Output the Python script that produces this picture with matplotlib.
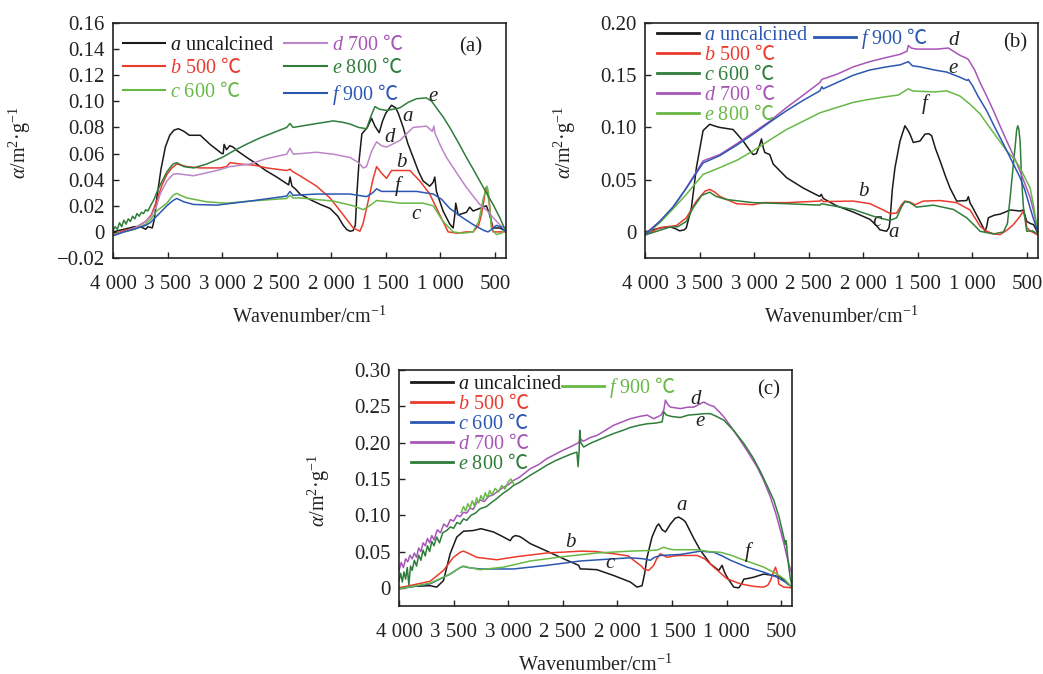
import matplotlib
matplotlib.use('Agg')
import matplotlib.pyplot as plt

plt.rcParams['font.family'] = ['Liberation Serif', 'Noto Sans CJK SC']
plt.rcParams['mathtext.fontset'] = 'custom'
plt.rcParams['mathtext.rm'] = 'Liberation Serif'
plt.rcParams['mathtext.it'] = 'Liberation Serif:italic'
plt.rcParams['mathtext.sf'] = 'Noto Sans CJK SC'

# x axis (wavenumber) ticks
xticks = [4000, 3500, 3000, 2500, 2000, 1500, 1000, 500]
xtick_labels = ['4 000', '3 500', '3 000', '2 500', '2 000', '1 500', '1 000', '500']

# ---------------- panel (a) ----------------
pa_a = [(4000, 0.0), (3900, 0.002), (3800, 0.004), (3750, 0.004), (3700, 0.002), (3680, 0.004),
        (3640, 0.003), (3620, 0.010), (3600, 0.025), (3560, 0.048), (3520, 0.065), (3480, 0.074),
        (3440, 0.078), (3400, 0.079), (3350, 0.077), (3300, 0.074), (3200, 0.074), (3110, 0.067),
        (3003, 0.060), (2990, 0.060), (2982, 0.067), (2960, 0.063), (2930, 0.066), (2900, 0.065),
        (2860, 0.062), (2774, 0.057), (2683, 0.052), (2600, 0.047), (2500, 0.042), (2409, 0.037),
        (2390, 0.036), (2378, 0.042), (2360, 0.035), (2330, 0.033), (2287, 0.029), (2200, 0.025),
        (2100, 0.021), (2012, 0.018), (1940, 0.012), (1890, 0.005), (1860, 0.002), (1830, 0.0005),
        (1800, 0.001), (1780, 0.005), (1765, 0.030), (1745, 0.055), (1720, 0.075), (1670, 0.080),
        (1631, 0.087), (1600, 0.081), (1561, 0.076), (1530, 0.085), (1500, 0.091), (1448, 0.097),
        (1410, 0.095), (1387, 0.091), (1341, 0.080), (1300, 0.068), (1250, 0.057), (1200, 0.046),
        (1159, 0.039), (1098, 0.035), (1067, 0.038), (1052, 0.042), (1037, 0.031), (976, 0.016),
        (915, 0.006), (884, 0.003), (870, 0.012), (860, 0.022), (838, 0.013), (800, 0.014),
        (762, 0.015), (732, 0.019), (701, 0.016), (640, 0.018), (579, 0.020), (549, 0.013),
        (518, 0.003), (457, 0.003), (412, 0.001), (400, 0.0)]
pa_b = [(4000, -0.002), (3900, 0.001), (3800, 0.003), (3700, 0.008), (3650, 0.013), (3598, 0.024),
        (3550, 0.036), (3506, 0.044), (3460, 0.049), (3415, 0.052), (3323, 0.050), (3201, 0.049),
        (3018, 0.049), (2960, 0.050), (2927, 0.053), (2835, 0.052), (2700, 0.051), (2591, 0.049),
        (2409, 0.047), (2378, 0.048), (2350, 0.046), (2287, 0.043), (2134, 0.035), (2012, 0.026),
        (1890, 0.013), (1799, 0.003), (1738, 0.0005), (1710, 0.006), (1677, 0.018), (1616, 0.041),
        (1585, 0.050), (1540, 0.045), (1494, 0.041), (1448, 0.047), (1372, 0.047), (1280, 0.047),
        (1189, 0.039), (1098, 0.029), (1006, 0.013), (930, 0.000), (850, -0.001), (762, 0.000),
        (701, 0.000), (650, 0.005), (625, 0.013), (600, 0.025), (585, 0.034), (570, 0.030),
        (555, 0.024), (535, 0.008), (518, 0.0), (480, 0.0), (412, 0.0), (400, 0.0)]
pa_c = [(4000, -0.002), (3800, 0.002), (3700, 0.006), (3650, 0.010), (3600, 0.016), (3506, 0.022),
        (3450, 0.028), (3415, 0.0295), (3380, 0.028), (3323, 0.026), (3140, 0.023), (2957, 0.022),
        (2744, 0.0236), (2409, 0.0256), (2378, 0.028), (2350, 0.026), (2287, 0.026), (1982, 0.0236),
        (1799, 0.020), (1707, 0.017), (1650, 0.020), (1585, 0.024), (1463, 0.023), (1372, 0.022),
        (1159, 0.022), (1067, 0.020), (976, 0.008), (884, 0.0), (800, -0.001), (701, 0.0),
        (650, 0.008), (610, 0.025), (573, 0.035), (560, 0.030), (534, 0.003), (488, -0.002),
        (440, -0.001), (412, 0.002), (400, 0.0)]
pa_d = [(4000, -0.003), (3900, 0.000), (3800, 0.003), (3700, 0.008), (3650, 0.012), (3600, 0.020),
        (3567, 0.029), (3506, 0.039), (3450, 0.044), (3415, 0.0446), (3262, 0.043), (3049, 0.047),
        (2927, 0.050), (2744, 0.052), (2600, 0.056), (2409, 0.0595), (2378, 0.064), (2348, 0.0595),
        (2134, 0.061), (1982, 0.0595), (1829, 0.057), (1750, 0.053), (1707, 0.049), (1677, 0.050),
        (1630, 0.062), (1585, 0.069), (1540, 0.066), (1494, 0.065), (1420, 0.068), (1372, 0.070),
        (1300, 0.076), (1250, 0.080), (1128, 0.081), (1075, 0.077), (1060, 0.081), (1052, 0.076),
        (1000, 0.066), (945, 0.057), (850, 0.045), (762, 0.034), (640, 0.021), (570, 0.016),
        (518, 0.011), (450, 0.005), (412, 0.003), (400, 0.002)]
pa_e = [(4000, 0.001), (3980, 0.004), (3960, 0.002), (3940, 0.007), (3920, 0.004), (3900, 0.009),
        (3880, 0.006), (3860, 0.010), (3840, 0.008), (3820, 0.012), (3800, 0.010), (3780, 0.014),
        (3760, 0.012), (3740, 0.015), (3720, 0.014), (3700, 0.017), (3680, 0.016), (3650, 0.021),
        (3628, 0.024), (3600, 0.030), (3567, 0.036), (3506, 0.046), (3450, 0.052), (3415, 0.053),
        (3350, 0.050), (3262, 0.049), (3140, 0.052), (3000, 0.057), (2896, 0.062), (2780, 0.067),
        (2652, 0.072), (2500, 0.077), (2409, 0.080), (2378, 0.083), (2350, 0.080), (2134, 0.083),
        (1982, 0.085), (1900, 0.084), (1829, 0.0826), (1750, 0.080), (1677, 0.079), (1640, 0.088),
        (1600, 0.096), (1560, 0.094), (1494, 0.093), (1430, 0.094), (1372, 0.095), (1300, 0.099),
        (1220, 0.102), (1128, 0.1026), (1080, 0.100), (1037, 0.095), (975, 0.088), (915, 0.080),
        (840, 0.069), (762, 0.057), (700, 0.048), (640, 0.039), (580, 0.030), (518, 0.021),
        (457, 0.011), (420, 0.004), (400, 0.002)]
pa_f = [(4000, -0.003), (3900, 0.000), (3811, 0.002), (3700, 0.005), (3659, 0.007), (3600, 0.012),
        (3506, 0.020), (3450, 0.024), (3415, 0.0256), (3350, 0.023), (3262, 0.021), (3049, 0.0205),
        (2900, 0.022), (2744, 0.0236), (2409, 0.0274), (2378, 0.031), (2350, 0.028), (2134, 0.029),
        (1829, 0.029), (1677, 0.027), (1620, 0.030), (1585, 0.033), (1540, 0.031), (1494, 0.031),
        (1220, 0.031), (1067, 0.029), (990, 0.025), (915, 0.018), (800, 0.011), (701, 0.0056),
        (600, 0.001), (564, 0.0), (530, 0.002), (488, 0.005), (450, 0.004), (412, 0.001), (400, 0.0)]
pa_tags = [('e', 1067, 0.104), ('a', 1305, 0.088), ('d', 1463, 0.072),
           ('b', 1357, 0.053), ('f', 1396, 0.035), ('c', 1220, 0.013)]

# ---------------- panel (b) ----------------
pb_a = [(4000, 0.0), (3927, 0.002), (3850, 0.004), (3774, 0.005), (3720, 0.003), (3682, 0.001),
        (3640, 0.002), (3621, 0.004), (3575, 0.023), (3529, 0.0615), (3468, 0.097), (3407, 0.103),
        (3350, 0.101), (3315, 0.100), (3193, 0.098), (3101, 0.087), (3040, 0.078), (3009, 0.074),
        (2979, 0.075), (2950, 0.083), (2933, 0.089), (2915, 0.080), (2902, 0.076), (2857, 0.074),
        (2826, 0.065), (2704, 0.052), (2551, 0.042), (2420, 0.035), (2398, 0.034), (2385, 0.036),
        (2367, 0.032), (2245, 0.025), (2092, 0.019), (1939, 0.012), (1880, 0.006), (1848, 0.002),
        (1787, 0.0006), (1765, 0.004), (1756, 0.010), (1735, 0.040), (1710, 0.0615), (1664, 0.087),
        (1619, 0.1016), (1590, 0.097), (1573, 0.0936), (1542, 0.0856), (1481, 0.087), (1435, 0.0936),
        (1400, 0.094), (1374, 0.092), (1340, 0.080), (1297, 0.068), (1250, 0.054), (1206, 0.042),
        (1145, 0.0295), (1053, 0.030), (1038, 0.0337), (1020, 0.027), (1007, 0.025), (931, 0.010),
        (885, 0.0006), (870, 0.005), (855, 0.0135), (800, 0.016), (747, 0.017), (700, 0.019),
        (655, 0.021), (564, 0.020), (533, 0.021), (503, 0.010), (470, 0.008), (441, 0.007),
        (401, -0.001)]
pb_b = [(4000, -0.003), (3865, 0.004), (3713, 0.006), (3621, 0.0135), (3529, 0.0295), (3450, 0.039),
        (3407, 0.0407), (3360, 0.038), (3315, 0.034), (3162, 0.027), (3009, 0.026), (2918, 0.028),
        (2704, 0.028), (2398, 0.0295), (2385, 0.031), (2367, 0.029), (2092, 0.0295), (1939, 0.027),
        (1817, 0.021), (1756, 0.0176), (1695, 0.018), (1650, 0.026), (1619, 0.0295), (1573, 0.0285),
        (1527, 0.026), (1450, 0.0295), (1297, 0.030), (1145, 0.028), (1023, 0.021), (975, 0.013),
        (931, 0.0054), (870, 0.0006), (800, -0.002), (747, -0.0026), (680, 0.002), (625, 0.007),
        (564, 0.015), (533, 0.020), (515, 0.012), (503, 0.004), (472, 0.001), (401, -0.003)]
pb_c = [(4000, -0.003), (3850, 0.002), (3774, 0.0045), (3700, 0.005), (3621, 0.010), (3560, 0.023),
        (3480, 0.035), (3407, 0.038), (3350, 0.034), (3254, 0.031), (3009, 0.028), (2704, 0.027),
        (2398, 0.0256), (2385, 0.027), (2092, 0.0215), (1909, 0.015), (1800, 0.012), (1756, 0.011),
        (1695, 0.0135), (1650, 0.024), (1619, 0.029), (1573, 0.028), (1512, 0.0237), (1359, 0.0256),
        (1175, 0.0215), (1053, 0.0135), (980, 0.006), (931, 0.0006), (808, -0.002), (716, 0.0),
        (680, 0.008), (655, 0.033), (630, 0.060), (610, 0.081), (595, 0.098), (585, 0.1016),
        (575, 0.098), (564, 0.087), (550, 0.050), (533, 0.023), (503, 0.0006), (450, 0.001),
        (401, -0.002)]
pb_d = [(4000, -0.002), (3865, 0.010), (3743, 0.023), (3621, 0.042), (3468, 0.068), (3315, 0.074),
        (3150, 0.085), (3009, 0.095), (2857, 0.106), (2704, 0.119), (2550, 0.131), (2398, 0.143),
        (2380, 0.146), (2240, 0.151), (2092, 0.158), (1940, 0.163), (1787, 0.167), (1664, 0.170),
        (1600, 0.173), (1588, 0.1785), (1560, 0.176), (1512, 0.175), (1328, 0.175), (1221, 0.176),
        (1160, 0.172), (1114, 0.169), (1050, 0.166), (1038, 0.165), (980, 0.155), (931, 0.143),
        (870, 0.130), (808, 0.116), (750, 0.102), (686, 0.087), (620, 0.072), (564, 0.058),
        (520, 0.046), (472, 0.033), (440, 0.020), (401, 0.0)]
pb_e = [(4000, -0.003), (3865, 0.0087), (3743, 0.022), (3621, 0.036), (3468, 0.055), (3315, 0.0615),
        (3150, 0.069), (3009, 0.0776), (2857, 0.088), (2704, 0.098), (2550, 0.106), (2398, 0.114),
        (2245, 0.119), (2092, 0.124), (1940, 0.127), (1787, 0.1295), (1680, 0.131), (1588, 0.137),
        (1550, 0.135), (1481, 0.1346), (1350, 0.134), (1236, 0.135), (1114, 0.130), (1020, 0.122),
        (931, 0.113), (870, 0.104), (808, 0.095), (686, 0.0776), (620, 0.070), (564, 0.0615),
        (520, 0.052), (472, 0.042), (440, 0.025), (401, 0.0)]
pb_f = [(4000, -0.003), (3865, 0.010), (3743, 0.024), (3621, 0.042), (3468, 0.066), (3315, 0.073),
        (3160, 0.083), (3009, 0.0936), (2857, 0.105), (2704, 0.116), (2550, 0.126), (2398, 0.135),
        (2380, 0.139), (2367, 0.137), (2240, 0.143), (2092, 0.150), (1940, 0.155), (1787, 0.158),
        (1660, 0.160), (1588, 0.163), (1550, 0.159), (1481, 0.158), (1350, 0.155), (1236, 0.153),
        (1114, 0.148), (1050, 0.145), (1038, 0.146), (1000, 0.140), (950, 0.130), (870, 0.116),
        (800, 0.101), (716, 0.084), (640, 0.068), (564, 0.052), (520, 0.040), (472, 0.023),
        (440, 0.012), (401, 0.0)]
pb_tags = [('d', 1175, 0.183), ('e', 1181, 0.156), ('f', 1435, 0.122),
           ('b', 2001, 0.0385), ('c', 1878, 0.010), ('a', 1725, -0.001)]

# ---------------- panel (c) ----------------
pc_a = [(4000, 0.0), (3869, 0.002), (3716, 0.003), (3655, 0.001), (3593, 0.010), (3532, 0.047),
        (3471, 0.070), (3410, 0.078), (3318, 0.079), (3250, 0.0815), (3135, 0.077), (3043, 0.070),
        (2982, 0.065), (2960, 0.070), (2936, 0.072), (2900, 0.071), (2875, 0.069), (2799, 0.061),
        (2646, 0.0506), (2493, 0.040), (2400, 0.034), (2355, 0.031), (2340, 0.026), (2309, 0.026),
        (2187, 0.025), (2034, 0.017), (1881, 0.008), (1820, 0.001), (1774, 0.003), (1750, 0.020),
        (1728, 0.042), (1683, 0.070), (1640, 0.085), (1621, 0.088), (1590, 0.080), (1560, 0.077),
        (1514, 0.088), (1470, 0.096), (1438, 0.0975), (1400, 0.094), (1377, 0.091), (1300, 0.068),
        (1239, 0.0515), (1148, 0.033), (1071, 0.024), (1041, 0.031), (1020, 0.022), (995, 0.0147),
        (934, 0.001), (888, 0.0), (860, 0.006), (842, 0.012), (800, 0.013), (750, 0.0147),
        (659, 0.019), (567, 0.017), (506, 0.0147), (460, 0.008), (401, 0.001)]
pc_b = [(4000, 0.0), (3716, 0.009), (3593, 0.024), (3502, 0.042), (3440, 0.049), (3410, 0.0506),
        (3370, 0.048), (3288, 0.042), (3104, 0.0387), (2921, 0.043), (2646, 0.048), (2400, 0.050),
        (2340, 0.0506), (2200, 0.050), (2034, 0.047), (1900, 0.044), (1851, 0.038), (1780, 0.030),
        (1759, 0.026), (1713, 0.024), (1667, 0.031), (1640, 0.040), (1606, 0.047), (1545, 0.042),
        (1480, 0.044), (1423, 0.0446), (1270, 0.0446), (1200, 0.040), (1117, 0.0285), (995, 0.0124),
        (873, 0.0055), (750, 0.002), (659, 0.001), (620, 0.004), (598, 0.010), (575, 0.020),
        (552, 0.0285), (535, 0.020), (521, 0.005), (476, 0.001), (401, 0.0)]
pc_c = [(4000, -0.0014), (3716, 0.0055), (3532, 0.019), (3440, 0.028), (3410, 0.0295), (3370, 0.028),
        (3257, 0.026), (2952, 0.026), (2646, 0.031), (2340, 0.037), (2034, 0.040), (1881, 0.0414),
        (1760, 0.040), (1698, 0.038), (1660, 0.042), (1606, 0.0446), (1423, 0.046), (1300, 0.049),
        (1239, 0.0506), (1117, 0.049), (1040, 0.044), (964, 0.038), (811, 0.0285), (659, 0.0216),
        (537, 0.0147), (450, 0.007), (401, 0.001)]
pc_d = [(4000, 0.024), (3980, 0.035), (3960, 0.028), (3940, 0.040), (3920, 0.036), (3900, 0.045),
        (3880, 0.040), (3860, 0.048), (3840, 0.042), (3820, 0.055), (3800, 0.050), (3780, 0.062),
        (3760, 0.058), (3740, 0.068), (3720, 0.062), (3700, 0.072), (3680, 0.066), (3650, 0.080),
        (3620, 0.076), (3590, 0.088), (3560, 0.084), (3530, 0.094), (3500, 0.092), (3470, 0.100),
        (3440, 0.098), (3410, 0.104), (3380, 0.103), (3350, 0.110), (3320, 0.108), (3290, 0.117),
        (3257, 0.121), (3220, 0.119), (3180, 0.126), (3140, 0.128), (3104, 0.132), (3050, 0.138),
        (3000, 0.142), (2952, 0.148), (2900, 0.152), (2850, 0.158), (2799, 0.164), (2720, 0.170),
        (2646, 0.178), (2570, 0.184), (2493, 0.190), (2420, 0.195), (2370, 0.199), (2355, 0.200),
        (2340, 0.205), (2310, 0.202), (2250, 0.207), (2187, 0.210), (2110, 0.217), (2034, 0.224),
        (1950, 0.229), (1881, 0.233), (1800, 0.236), (1728, 0.238), (1667, 0.233), (1600, 0.238),
        (1575, 0.245), (1560, 0.2586), (1535, 0.252), (1514, 0.249), (1423, 0.247), (1350, 0.249),
        (1300, 0.249), (1250, 0.253), (1209, 0.256), (1160, 0.252), (1117, 0.250), (1070, 0.243),
        (1025, 0.2356), (950, 0.220), (873, 0.203), (800, 0.186), (720, 0.1666), (660, 0.148),
        (598, 0.125), (550, 0.103), (506, 0.079), (470, 0.058), (445, 0.042), (420, 0.028),
        (401, 0.019)]
pc_e = [(4000, 0.010), (3985, 0.020), (3970, 0.008), (3955, 0.022), (3940, 0.012), (3925, 0.028),
        (3910, 0.004), (3895, 0.030), (3880, 0.024), (3860, 0.038), (3840, 0.030), (3820, 0.045),
        (3800, 0.038), (3780, 0.052), (3760, 0.044), (3740, 0.058), (3720, 0.050), (3700, 0.064),
        (3680, 0.058), (3655, 0.070), (3630, 0.062), (3600, 0.076), (3563, 0.079), (3530, 0.084),
        (3500, 0.082), (3470, 0.090), (3440, 0.088), (3410, 0.095), (3380, 0.093), (3340, 0.100),
        (3300, 0.103), (3257, 0.109), (3200, 0.112), (3150, 0.118), (3104, 0.123), (3050, 0.130),
        (3000, 0.135), (2952, 0.141), (2900, 0.145), (2850, 0.150), (2799, 0.155), (2720, 0.162),
        (2646, 0.169), (2570, 0.175), (2493, 0.180), (2430, 0.184), (2371, 0.187), (2360, 0.167),
        (2350, 0.190), (2345, 0.217), (2335, 0.200), (2309, 0.194), (2250, 0.199), (2187, 0.203),
        (2110, 0.208), (2034, 0.2126), (1950, 0.217), (1881, 0.221), (1800, 0.224), (1728, 0.226),
        (1650, 0.227), (1590, 0.2287), (1575, 0.2425), (1550, 0.238), (1500, 0.236), (1423, 0.2347),
        (1350, 0.238), (1270, 0.239), (1200, 0.240), (1148, 0.240), (1090, 0.236), (1025, 0.231),
        (930, 0.216), (842, 0.199), (760, 0.180), (689, 0.160), (620, 0.138), (567, 0.1206),
        (520, 0.098), (476, 0.070), (462, 0.060), (454, 0.065), (445, 0.050), (430, 0.0285),
        (415, 0.012), (401, 0.004)]
pc_f = [(4000, -0.0014), (3716, 0.0064), (3532, 0.019), (3440, 0.028), (3410, 0.030), (3360, 0.028),
        (3257, 0.025), (3043, 0.0285), (2799, 0.037), (2493, 0.043), (2187, 0.048), (1881, 0.0506),
        (1700, 0.0515), (1637, 0.052), (1590, 0.055), (1575, 0.056), (1540, 0.054), (1484, 0.0525),
        (1270, 0.0525), (1160, 0.050), (1056, 0.049), (960, 0.045), (873, 0.040), (760, 0.034),
        (659, 0.0285), (537, 0.019), (470, 0.012), (401, 0.001)]
# light green noisy trace lying over curve e near 3 400-2 950
pc_f_extra = [(3430, 0.104), (3410, 0.112), (3390, 0.106), (3370, 0.116), (3350, 0.110), (3330, 0.120),
              (3310, 0.113), (3290, 0.124), (3270, 0.117), (3250, 0.127), (3230, 0.121), (3210, 0.131),
              (3190, 0.124), (3170, 0.134), (3150, 0.128), (3120, 0.137), (3090, 0.132), (3060, 0.141),
              (3030, 0.136), (3000, 0.146), (2975, 0.150), (2950, 0.143)]
pc_tags = [('d', 1285, 0.2595), ('e', 1239, 0.229), ('a', 1407, 0.114),
           ('b', 2432, 0.063), ('c', 2065, 0.034), ('f', 811, 0.049)]

BLACK = '#1a1a1a'
RED = '#ea3b2c'
LGREEN = '#68b846'
DGREEN = '#2f7d3b'
PURPLE = '#a855b8'
LPURPLE = '#bd86c9'
BLUE = '#2b57b3'

names = ['uncalcined', '500 $\\mathsf{℃}$', '600 $\\mathsf{℃}$', '700 $\\mathsf{℃}$',
         '800 $\\mathsf{℃}$', '900 $\\mathsf{℃}$']
letters = ['a', 'b', 'c', 'd', 'e', 'f']


def label(i):
    return '$\\mathit{%s}$ %s' % (letters[i], names[i])


def curve(ax, pts, color, lw=1.1):
    xs = [p[0] for p in pts]
    ys = [p[1] for p in pts]
    return ax.plot(xs, ys, color=color, lw=lw)[0]


def frame(ax, yticks, ylabels, ylim, tag, ylab_x):
    ax.set_xlim(4000, 400)
    ax.set_ylim(*ylim)
    ax.set_xticks(xticks, xtick_labels)
    ax.set_yticks(yticks, ylabels)
    ax.tick_params(direction='in', length=4, width=1, labelsize=15, colors='#222222')
    ax.tick_params(axis='x', pad=12)
    ax.tick_params(axis='y', pad=6)
    for s in ax.spines.values():
        s.set_linewidth(1.2)
        s.set_color('#222222')
    ax.set_xlabel('Wavenumber/cm$^{\\mathrm{-1}}$', fontsize=14.5, color='#222222')
    ax.xaxis.set_label_coords(0.5, -0.205)
    ax.set_ylabel('$\\alpha$/m$^{\\mathrm{2}}$·g$^{\\mathrm{-1}}$', fontsize=14.5, color='#222222')
    ax.yaxis.set_label_coords(ylab_x, 0.49)
    ax.text(tag[1], tag[2], tag[0], transform=ax.transAxes, fontsize=15,
            ha='center', va='center', color='#222222')


def tag_curves(ax, tags):
    for t, x, y in tags:
        ax.text(x, y, t, fontsize=15, style='italic', ha='center', va='center',
                color='#222222', family='Liberation Serif')


def make_legend(ax, handles, idx, text_colors, anchor, ncol, spacing, lw):
    leg = ax.legend(handles, [label(i) for i in idx], loc='upper left', bbox_to_anchor=anchor,
                    ncol=ncol, frameon=False, fontsize=14.5, borderpad=0, borderaxespad=0,
                    handlelength=2.1, handletextpad=0.25, columnspacing=0.5,
                    labelspacing=spacing)
    for t, c in zip(leg.get_texts(), text_colors):
        t.set_color(c)
    for ln in leg.get_lines():
        ln.set_linewidth(lw)
    return leg


fig = plt.figure(figsize=(10.43, 6.74), dpi=100)
ax_a = fig.add_axes([0.1083, 0.6172, 0.3768, 0.3487])
ax_b = fig.add_axes([0.6184, 0.6172, 0.3768, 0.3487])
ax_c = fig.add_axes([0.3826, 0.1009, 0.3768, 0.3500])

# panel (a)
ha = [curve(ax_a, pa_a, BLACK), curve(ax_a, pa_b, RED), curve(ax_a, pa_c, LGREEN),
      curve(ax_a, pa_d, LPURPLE), curve(ax_a, pa_e, DGREEN), curve(ax_a, pa_f, BLUE)]
frame(ax_a, [-0.02, 0, 0.02, 0.04, 0.06, 0.08, 0.10, 0.12, 0.14, 0.16],
      ['\u22120.02', '0', '0.02', '0.04', '0.06', '0.08', '0.10', '0.12', '0.14', '0.16'],
      (-0.02, 0.16), ('(a)', 0.911, 0.898), -0.204)
tag_curves(ax_a, pa_tags)
make_legend(ax_a, ha, [0, 1, 2, 3, 4, 5], [BLACK, RED, LGREEN, PURPLE, DGREEN, BLUE],
            (0.025, 0.95), 2, 0.17, 1.5)

# panel (b)
hb = [curve(ax_b, pb_a, BLACK), curve(ax_b, pb_b, RED), curve(ax_b, pb_c, DGREEN),
      curve(ax_b, pb_d, PURPLE), curve(ax_b, pb_e, LGREEN), curve(ax_b, pb_f, BLUE)]
frame(ax_b, [0, 0.05, 0.10, 0.15, 0.20], ['0', '0.05', '0.10', '0.15', '0.20'],
      (-0.025, 0.20), ('(b)', 0.941, 0.915), -0.17)
tag_curves(ax_b, pb_tags)
leg_b = make_legend(ax_b, hb[:5], [0, 1, 2, 3, 4], [BLUE, RED, DGREEN, PURPLE, LGREEN],
                    (0.03, 0.988), 1, 0.0, 2.0)
ax_b.add_artist(leg_b)
make_legend(ax_b, hb[5:], [5], [BLUE], (0.43, 0.988), 1, 0.0, 2.0)

# panel (c)
hc = [curve(ax_c, pc_a, BLACK), curve(ax_c, pc_b, RED), curve(ax_c, pc_c, BLUE),
      curve(ax_c, pc_d, PURPLE), curve(ax_c, pc_e, DGREEN), curve(ax_c, pc_f, LGREEN)]
curve(ax_c, pc_f_extra, LGREEN)
frame(ax_c, [0, 0.05, 0.10, 0.15, 0.20, 0.25, 0.30],
      ['0', '0.05', '0.10', '0.15', '0.20', '0.25', '0.30'],
      (-0.025, 0.30), ('(c)', 0.941, 0.915), -0.17)
tag_curves(ax_c, pc_tags)
leg_c = make_legend(ax_c, hc[:5], [0, 1, 2, 3, 4], [BLACK, RED, BLUE, PURPLE, DGREEN],
                    (0.03, 0.98), 1, 0.0, 2.0)
ax_c.add_artist(leg_c)
make_legend(ax_c, hc[5:], [5], [LGREEN], (0.415, 0.98), 1, 0.0, 2.0)

fig.savefig('out.png', dpi=100)
